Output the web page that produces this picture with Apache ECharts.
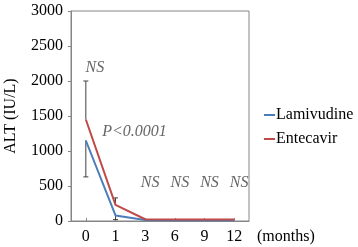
<!DOCTYPE html>
<html>
<head>
<meta charset="utf-8">
<script src="https://cdn.jsdelivr.net/npm/echarts@6/dist/echarts.min.js"></script>
<style>
    html, body { margin: 0; padding: 0; background: #fff; }
    #chart { width: 358px; height: 247px; }
</style>
</head>
<body>
<div id="chart"></div>
<script>
    // data
    const months = ['0', '1', '3', '6', '9', '12'];
    const lamivudine = [1150, 80, 15, 10, 10, 10];
    const entecavir = [1450, 230, 25, 20, 20, 20];
    // error bars: [category index, mean, end]
    const lamivudineErr = [[0, 1150, 630], [1, 80, 20]];
    const entecavirErr = [[0, 1450, 2000], [1, 230, 330]];
    // significance notes: [category, value, text]
    const notes = [
        ['0', 2190, 'NS'],
        ['1', 1270, 'P<0.0001'],
        ['3', 540, 'NS'],
        ['6', 540, 'NS'],
        ['9', 540, 'NS'],
        ['12', 540, 'NS']
    ];

    const serif = 'Times New Roman, DejaVu Serif';
    const axisGray = '#868686';

    let myChart = echarts.init(document.getElementById('chart'));

    function errorBar(color) {
        return function (params, api) {
            let p0 = api.coord([api.value(0), api.value(1)]);
            let p1 = api.coord([api.value(0), api.value(2)]);
            let half = 2.5;
            return {
                type: 'group',
                children: [
                    { type: 'line', shape: { x1: p0[0], y1: p0[1], x2: p1[0], y2: p1[1] }, style: { stroke: color, lineWidth: 1 } },
                    { type: 'line', shape: { x1: p1[0] - half, y1: p1[1], x2: p1[0] + half, y2: p1[1] }, style: { stroke: color, lineWidth: 1 } }
                ]
            };
        };
    }

    let option = {
        animation: false,
        textStyle: { fontFamily: serif, fontSize: 16, color: '#000' },
        grid: {
            left: 71,
            right: 109,
            top: 11,
            bottom: 26,
            show: true,
            borderColor: axisGray,
            borderWidth: 1
        },
        legend: {
            orient: 'vertical',
            left: 259,
            top: 102,
            itemWidth: 11,
            itemHeight: 2,
            itemGap: 8,
            icon: 'rect',
            data: ['Lamivudine', 'Entecavir'],
            textStyle: { fontFamily: serif, fontSize: 16, color: '#000', padding: [0, 0, 0, -4] }
        },
        xAxis: {
            type: 'category',
            data: months,
            name: '(months)',
            nameLocation: 'end',
            nameGap: 8,
            nameTextStyle: { fontFamily: serif, fontSize: 16, color: '#000', verticalAlign: 'top', padding: [8, 0, 0, 0] },
            axisLine: { lineStyle: { color: axisGray } },
            axisTick: { show: true, alignWithLabel: true, inside: true, length: 3, lineStyle: { color: axisGray } },
            axisLabel: { fontFamily: serif, fontSize: 16, color: '#000', margin: 8 }
        },
        yAxis: {
            type: 'value',
            min: 0,
            max: 3000,
            interval: 500,
            name: 'ALT (IU/L)',
            nameLocation: 'middle',
            nameGap: 52,
            nameTextStyle: { fontFamily: serif, fontSize: 16, color: '#000' },
            axisLine: { show: true, lineStyle: { color: axisGray } },
            axisTick: { show: true, length: 3, lineStyle: { color: axisGray } },
            axisLabel: {
                fontFamily: serif, fontSize: 16, color: '#000', margin: 8,
                formatter: v => String(v)
            },
            splitLine: { show: false }
        },
        series: [
            {
                name: 'Lamivudine',
                type: 'line',
                data: lamivudine,
                symbol: 'none',
                color: '#4a7ebb',
                lineStyle: { width: 2 },
                z: 3
            },
            {
                name: 'Entecavir',
                type: 'line',
                data: entecavir,
                symbol: 'none',
                color: '#be4b48',
                lineStyle: { width: 2 },
                z: 3
            },
            {
                type: 'custom',
                renderItem: errorBar('#404040'),
                data: lamivudineErr,
                z: 2
            },
            {
                type: 'custom',
                renderItem: errorBar('#404040'),
                data: entecavirErr,
                z: 2
            },
            {
                type: 'scatter',
                symbolSize: 0,
                silent: true,
                data: notes.map((n, i) => ({
                    value: [n[0], n[1]],
                    label: {
                        show: true,
                        formatter: n[2],
                        position: 'inside',
                        offset: i === 0 ? [9, 0] : (i === 1 ? [19, 0] : [5, 0]),
                        fontFamily: serif,
                        fontStyle: 'italic',
                        fontSize: 16,
                        color: '#404040'
                    }
                }))
            }
        ]
    };
    myChart.setOption(option);
</script>
</body>
</html>
